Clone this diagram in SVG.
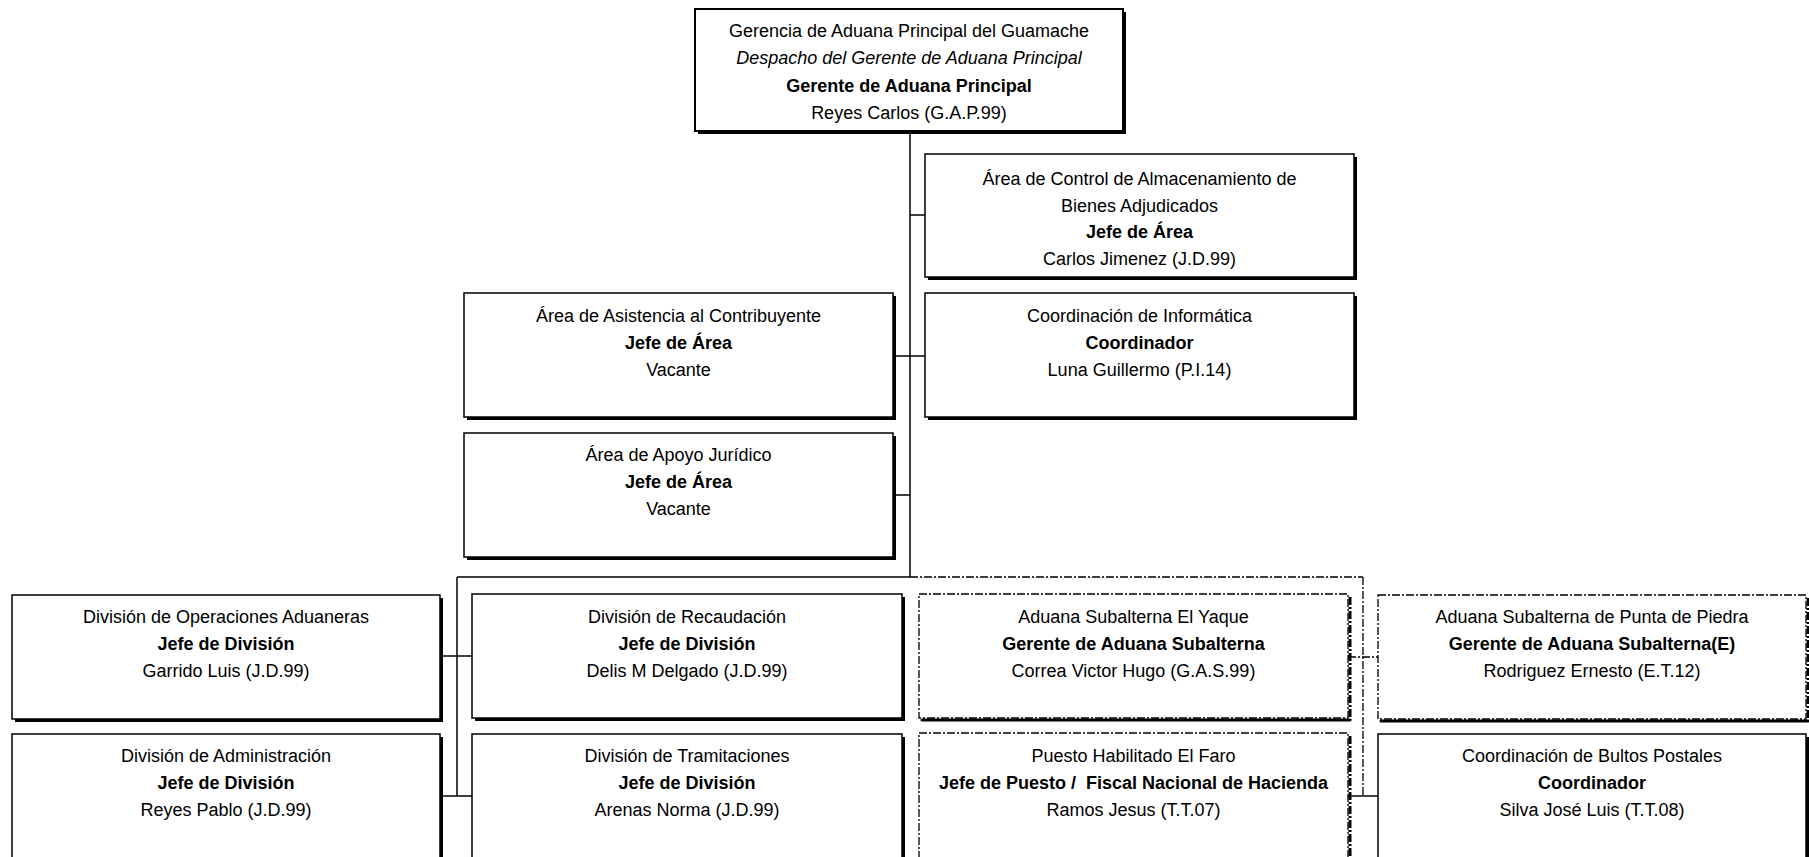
<svg xmlns="http://www.w3.org/2000/svg" width="1809" height="857" viewBox="0 0 1809 857">
<style>
.box{fill:#fff;stroke:#000;stroke-width:1.5}
.sh{fill:#000}
.dbox{fill:#fff;stroke:#000;stroke-width:1.3;stroke-dasharray:8 2 2 2}
.dsh{fill:none;stroke:#000;stroke-width:3}
.dshd{fill:none;stroke:#000;stroke-width:3;stroke-dasharray:8 2 2 2}
.t{font-family:"Liberation Sans",Arial,sans-serif;font-size:18px;text-anchor:middle;fill:#000}
.b{font-weight:bold}
.i{font-style:italic}
.ln{stroke:#000;stroke-width:1.5;fill:none}
.dl{stroke:#000;stroke-width:1.3;fill:none;stroke-dasharray:8 2 2 2}
</style>
<rect width="1809" height="857" fill="#fff"/>
<g id="connectors">
<line class="ln" x1="910" y1="131" x2="910" y2="577"/>
<line class="ln" x1="910" y1="215" x2="925" y2="215"/>
<line class="ln" x1="893" y1="356" x2="925" y2="356"/>
<line class="ln" x1="893" y1="495" x2="910" y2="495"/>
<line class="ln" x1="457" y1="577" x2="910" y2="577"/>
<line class="ln" x1="457" y1="577" x2="457" y2="796"/>
<line class="ln" x1="440" y1="656" x2="472" y2="656"/>
<line class="ln" x1="440" y1="796" x2="472" y2="796"/>
<line class="dl" x1="910" y1="577" x2="1363" y2="577"/>
<line class="dl" x1="1363" y1="577" x2="1363" y2="796"/>
<line class="dl" x1="1348" y1="657" x2="1378" y2="657"/>
<line class="ln" x1="1348" y1="796" x2="1378" y2="796"/>
</g>
<g id="n-gerencia">
<rect class="sh" x="698" y="12" width="428" height="122"/>
<rect class="box" x="695" y="9" width="428" height="122" style="stroke-width:2"/>
<text class="t" x="909" y="37">Gerencia de Aduana Principal del Guamache</text>
<text class="t i" x="909" y="64">Despacho del Gerente de Aduana Principal</text>
<text class="t b" x="909" y="92">Gerente de Aduana Principal</text>
<text class="t" x="909" y="119">Reyes Carlos (G.A.P.99)</text>
</g>
<g id="n-almacenamiento">
<rect class="sh" x="928" y="157" width="429" height="123"/>
<rect class="box" x="925" y="154" width="429" height="123"/>
<text class="t" x="1139.5" y="185">Área de Control de Almacenamiento de</text>
<text class="t" x="1139.5" y="212">Bienes Adjudicados</text>
<text class="t b" x="1139.5" y="238">Jefe de Área</text>
<text class="t" x="1139.5" y="265">Carlos Jimenez (J.D.99)</text>
</g>
<g id="n-asistencia">
<rect class="sh" x="467" y="296" width="429" height="124"/>
<rect class="box" x="464" y="293" width="429" height="124"/>
<text class="t" x="678.5" y="322">Área de Asistencia al Contribuyente</text>
<text class="t b" x="678.5" y="349">Jefe de Área</text>
<text class="t" x="678.5" y="376">Vacante</text>
</g>
<g id="n-informatica">
<rect class="sh" x="928" y="296" width="429" height="124"/>
<rect class="box" x="925" y="293" width="429" height="124"/>
<text class="t" x="1139.5" y="322">Coordinación de Informática</text>
<text class="t b" x="1139.5" y="349">Coordinador</text>
<text class="t" x="1139.5" y="376">Luna Guillermo (P.I.14)</text>
</g>
<g id="n-juridico">
<rect class="sh" x="467" y="436" width="429" height="124"/>
<rect class="box" x="464" y="433" width="429" height="124"/>
<text class="t" x="678.5" y="461">Área de Apoyo Jurídico</text>
<text class="t b" x="678.5" y="488">Jefe de Área</text>
<text class="t" x="678.5" y="515">Vacante</text>
</g>
<g id="n-operaciones">
<rect class="sh" x="15" y="598" width="428" height="124"/>
<rect class="box" x="12" y="595" width="428" height="124"/>
<text class="t" x="226" y="623">División de Operaciones Aduaneras</text>
<text class="t b" x="226" y="650">Jefe de División</text>
<text class="t" x="226" y="677">Garrido Luis (J.D.99)</text>
</g>
<g id="n-administracion">
<rect class="sh" x="15" y="737" width="428" height="130"/>
<rect class="box" x="12" y="734" width="428" height="130"/>
<text class="t" x="226" y="762">División de Administración</text>
<text class="t b" x="226" y="789">Jefe de División</text>
<text class="t" x="226" y="816">Reyes Pablo (J.D.99)</text>
</g>
<g id="n-recaudacion">
<rect class="sh" x="475" y="597" width="430" height="124"/>
<rect class="box" x="472" y="594" width="430" height="124"/>
<text class="t" x="687" y="623">División de Recaudación</text>
<text class="t b" x="687" y="650">Jefe de División</text>
<text class="t" x="687" y="677">Delis M Delgado (J.D.99)</text>
</g>
<g id="n-tramitaciones">
<rect class="sh" x="475" y="737" width="430" height="130"/>
<rect class="box" x="472" y="734" width="430" height="130"/>
<text class="t" x="687" y="762">División de Tramitaciones</text>
<text class="t b" x="687" y="789">Jefe de División</text>
<text class="t" x="687" y="816">Arenas Norma (J.D.99)</text>
</g>
<g id="n-yaque">
<path class="dshd" d="M1350 597V720"/>
<path class="dsh" d="M922 720H1350" stroke-linecap="round"/>
<rect class="dbox" x="919" y="594" width="429" height="124"/>
<text class="t" x="1133.5" y="623">Aduana Subalterna El Yaque</text>
<text class="t b" x="1133.5" y="650">Gerente de Aduana Subalterna</text>
<text class="t" x="1133.5" y="677">Correa Victor Hugo (G.A.S.99)</text>
</g>
<g id="n-faro">
<path class="dshd" d="M1350 736V870"/>
<rect class="dbox" x="919" y="733" width="429" height="131"/>
<text class="t" x="1133.5" y="762">Puesto Habilitado El Faro</text>
<text class="t b" x="1133.5" y="789" xml:space="preserve">Jefe de Puesto /  Fiscal Nacional de Hacienda</text>
<text class="t" x="1133.5" y="816">Ramos Jesus (T.T.07)</text>
</g>
<g id="n-punta">
<path class="dshd" d="M1808 598V721"/>
<path class="dsh" d="M1381 721H1808" stroke-linecap="round"/>
<rect class="dbox" x="1378" y="595" width="428" height="124"/>
<text class="t" x="1592" y="623">Aduana Subalterna de Punta de Piedra</text>
<text class="t b" x="1592" y="650">Gerente de Aduana Subalterna(E)</text>
<text class="t" x="1592" y="677">Rodriguez Ernesto (E.T.12)</text>
</g>
<g id="n-bultos">
<rect class="sh" x="1381" y="737" width="428" height="130"/>
<rect class="box" x="1378" y="734" width="428" height="130"/>
<text class="t" x="1592" y="762">Coordinación de Bultos Postales</text>
<text class="t b" x="1592" y="789">Coordinador</text>
<text class="t" x="1592" y="816">Silva José Luis (T.T.08)</text>
</g>
</svg>
